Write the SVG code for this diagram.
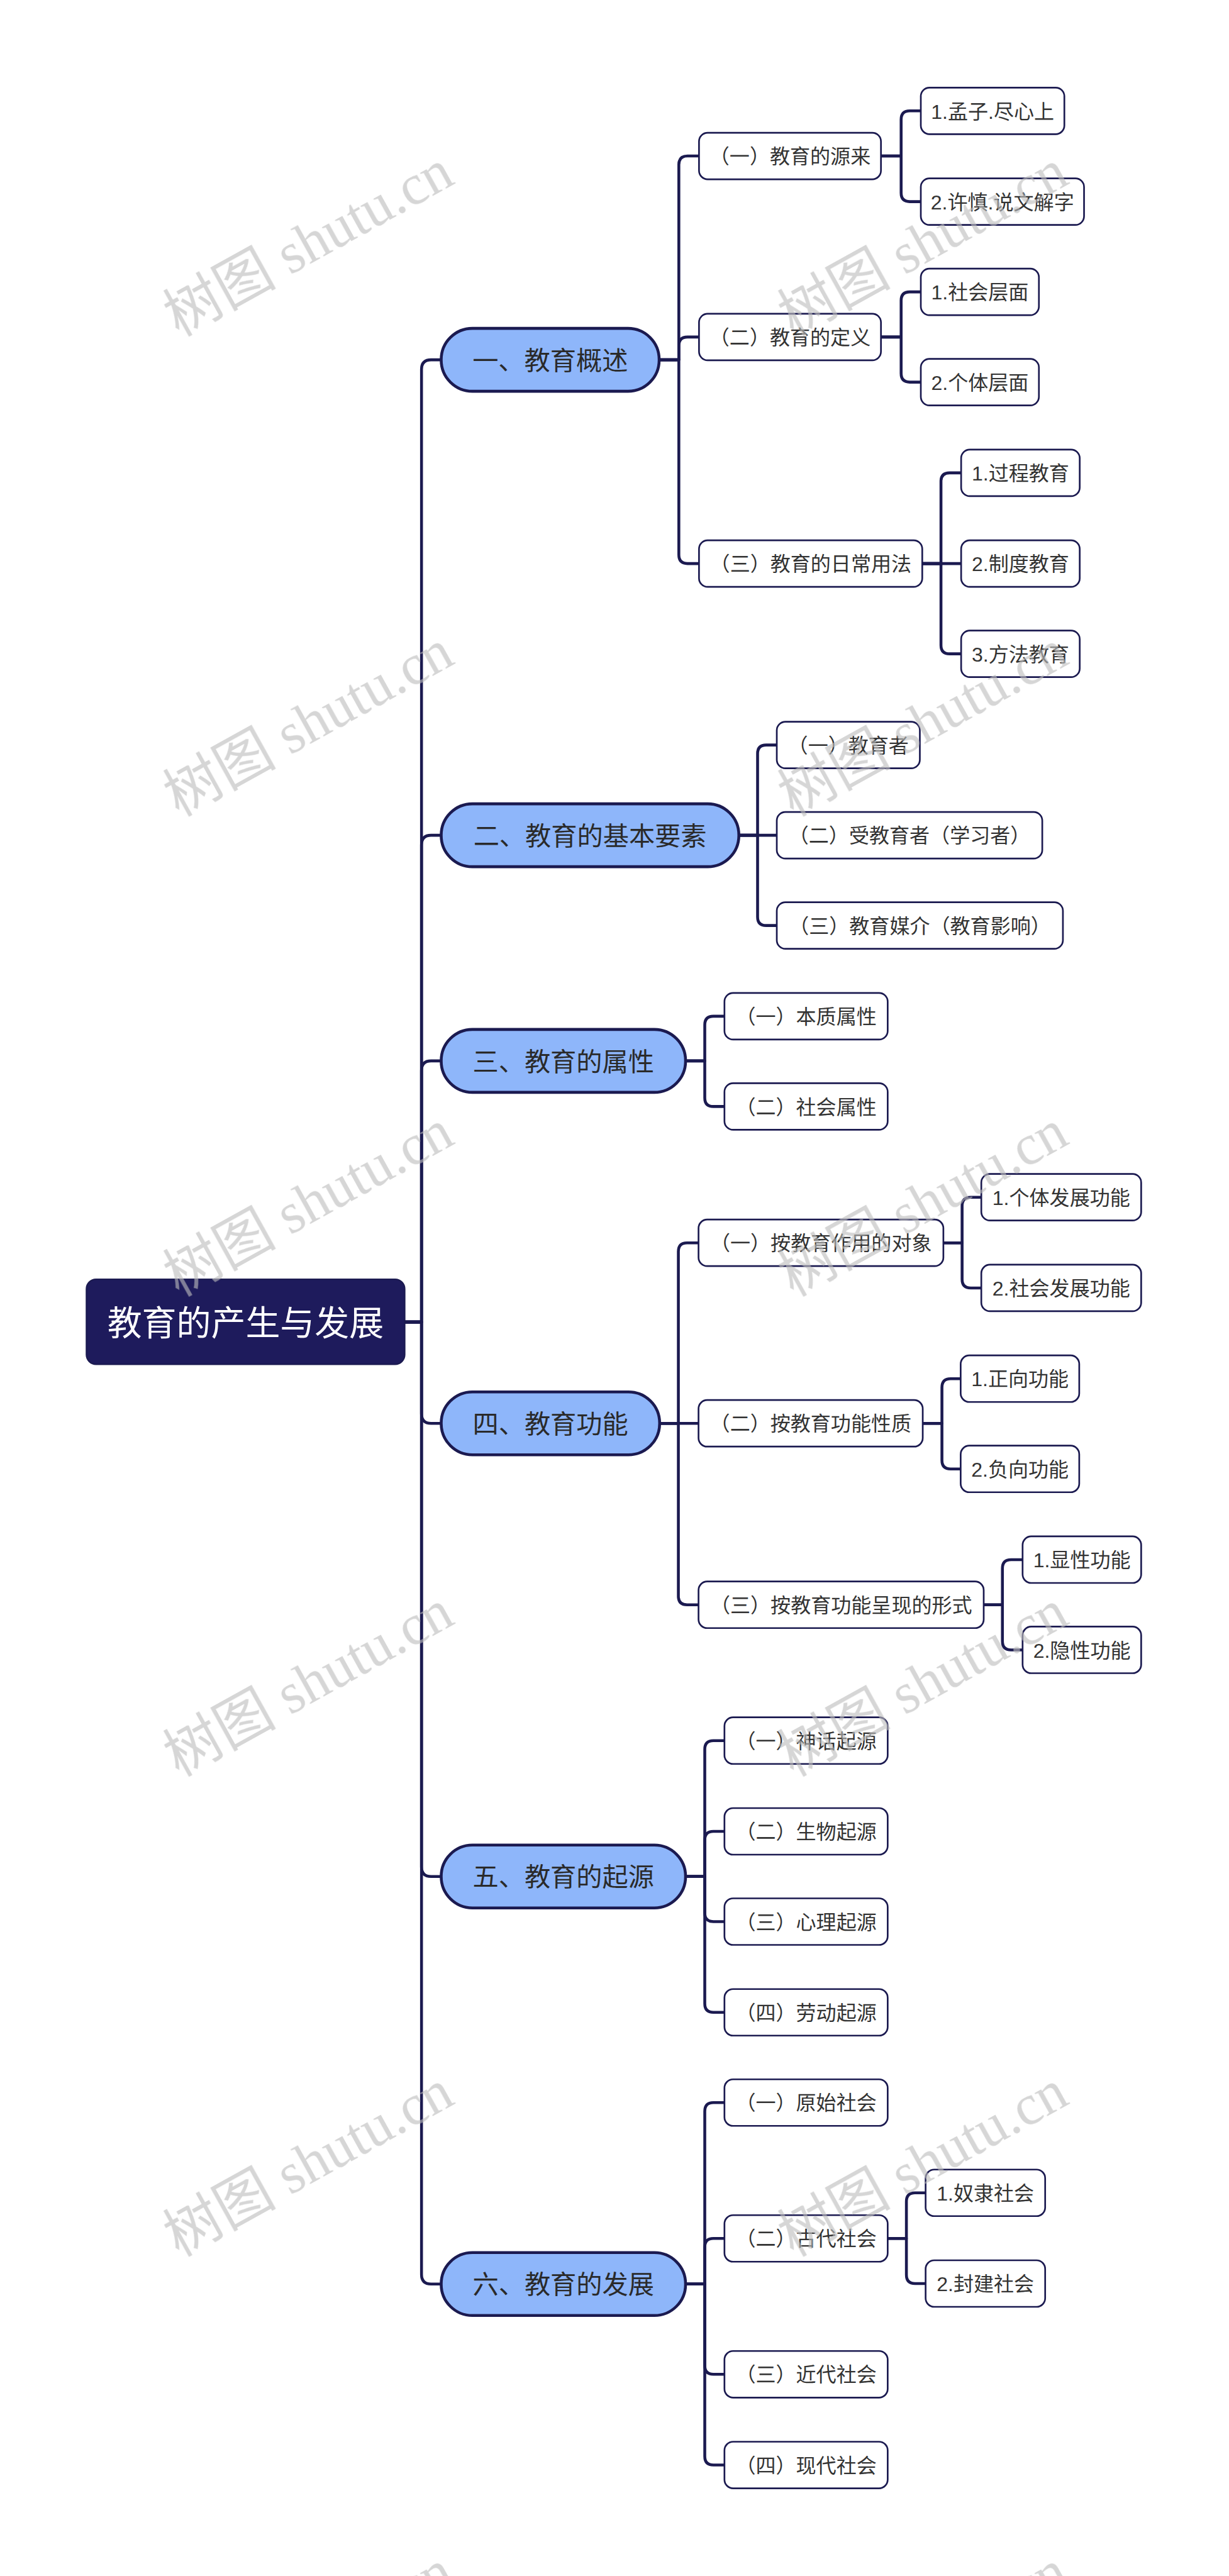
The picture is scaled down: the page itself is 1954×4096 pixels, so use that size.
<svg xmlns="http://www.w3.org/2000/svg" width="1954" height="4096" viewBox="0 0 1954 4096">
<defs>
<style>
.ln{fill:none;stroke:#1b1a50;stroke-width:6;stroke-linejoin:round}
.root rect{fill:#1e1b5c;stroke:#1b1a50;stroke-width:3}
.root text{fill:#ffffff;font-size:72px}
.l1 rect{fill:#8eb6fa;stroke:#1b1a50;stroke-width:6}
.l1 text{fill:#2a2a2a;font-size:54px}
.l2 rect{fill:#ffffff;stroke:#1b1a50;stroke-width:3.5}
.l2 text{fill:#333333;font-size:42px}
text{font-family:"Liberation Sans","Noto Sans CJK SC",sans-serif;text-anchor:middle}
.wm text{font-family:"Liberation Serif","Noto Sans CJK SC",serif;font-size:118px;fill:#bdbdbd;text-anchor:start}
</style>
</defs>
<rect x="0" y="0" width="1954" height="4096" fill="#ffffff"/>
<g transform="scale(0.7633)">
<g id="connectors">
<path class="ln" d="M843 2754 H878 V769.5 Q878 749.5 898 749.5 H919"/>
<path class="ln" d="M843 2754 H878 V1760 Q878 1740 898 1740 H919"/>
<path class="ln" d="M843 2754 H878 V2230 Q878 2210 898 2210 H919"/>
<path class="ln" d="M843 2754 H878 V2945 Q878 2965 898 2965 H919"/>
<path class="ln" d="M843 2754 H878 V3889 Q878 3909 898 3909 H919"/>
<path class="ln" d="M843 2754 H878 V4738 Q878 4758 898 4758 H919"/>
<path class="ln" d="M1373 749.5 H1414 V343 Q1414 325 1432 325 H1456"/>
<path class="ln" d="M1373 749.5 H1414 V720 Q1414 702 1432 702 H1456"/>
<path class="ln" d="M1373 749.5 H1414 V1156 Q1414 1174 1432 1174 H1456"/>
<path class="ln" d="M1539 1740 H1578 V1570 Q1578 1552 1596 1552 H1618"/>
<path class="ln" d="M1539 1740 H1618"/>
<path class="ln" d="M1539 1740 H1578 V1910 Q1578 1928 1596 1928 H1618"/>
<path class="ln" d="M1428 2210 H1468 V2135 Q1468 2117 1486 2117 H1509"/>
<path class="ln" d="M1428 2210 H1468 V2287 Q1468 2305 1486 2305 H1509"/>
<path class="ln" d="M1374 2965 H1413 V2607 Q1413 2589 1431 2589 H1455"/>
<path class="ln" d="M1374 2965 H1455"/>
<path class="ln" d="M1374 2965 H1413 V3325 Q1413 3343 1431 3343 H1455"/>
<path class="ln" d="M1428 3909 H1468 V3644 Q1468 3626 1486 3626 H1509"/>
<path class="ln" d="M1428 3909 H1468 V3833 Q1468 3815 1486 3815 H1509"/>
<path class="ln" d="M1428 3909 H1468 V3985 Q1468 4003 1486 4003 H1509"/>
<path class="ln" d="M1428 3909 H1468 V4174 Q1468 4192 1486 4192 H1509"/>
<path class="ln" d="M1428 4758 H1468 V4398 Q1468 4380 1486 4380 H1509"/>
<path class="ln" d="M1428 4758 H1468 V4681 Q1468 4663 1486 4663 H1509"/>
<path class="ln" d="M1428 4758 H1468 V4928 Q1468 4946 1486 4946 H1509"/>
<path class="ln" d="M1428 4758 H1468 V5117 Q1468 5135 1486 5135 H1509"/>
<path class="ln" d="M1835 325 H1877 V249 Q1877 231 1895 231 H1918"/>
<path class="ln" d="M1835 325 H1877 V402 Q1877 420 1895 420 H1918"/>
<path class="ln" d="M1835 702 H1877 V626 Q1877 608 1895 608 H1918"/>
<path class="ln" d="M1835 702 H1877 V778 Q1877 796 1895 796 H1918"/>
<path class="ln" d="M1921 1174 H1960 V1003 Q1960 985 1978 985 H2002"/>
<path class="ln" d="M1921 1174 H2002"/>
<path class="ln" d="M1921 1174 H1960 V1344 Q1960 1362 1978 1362 H2002"/>
<path class="ln" d="M1965 2589 H2004 V2512 Q2004 2494 2022 2494 H2044"/>
<path class="ln" d="M1965 2589 H2004 V2665 Q2004 2683 2022 2683 H2044"/>
<path class="ln" d="M1922 2965 H1962 V2890 Q1962 2872 1980 2872 H2001"/>
<path class="ln" d="M1922 2965 H1962 V3042 Q1962 3060 1980 3060 H2001"/>
<path class="ln" d="M2049 3343 H2088 V3267 Q2088 3249 2106 3249 H2130"/>
<path class="ln" d="M2049 3343 H2088 V3419 Q2088 3437 2106 3437 H2130"/>
<path class="ln" d="M1849 4663 H1888 V4586 Q1888 4568 1906 4568 H1928"/>
<path class="ln" d="M1849 4663 H1888 V4739 Q1888 4757 1906 4757 H1928"/>
</g>
<g id="root" class="root"><rect x="180" y="2665" width="663" height="177" rx="20"/><text x="511.5" y="2781">教育的产生与发展</text></g>
<g id="n1" class="l1"><rect x="919" y="684" width="454" height="131" rx="65"/><text x="1146" y="770">一、教育概述</text></g>
<g id="n2" class="l1"><rect x="919" y="1674.5" width="620" height="131" rx="65"/><text x="1229" y="1760.5">二、教育的基本要素</text></g>
<g id="n3" class="l1"><rect x="919" y="2144.5" width="509" height="131" rx="65"/><text x="1173.5" y="2230.5">三、教育的属性</text></g>
<g id="n4" class="l1"><rect x="919" y="2899.5" width="455" height="131" rx="65"/><text x="1146.5" y="2985.5">四、教育功能</text></g>
<g id="n5" class="l1"><rect x="919" y="3843.5" width="509" height="131" rx="65"/><text x="1173.5" y="3929.5">五、教育的起源</text></g>
<g id="n6" class="l1"><rect x="919" y="4692.5" width="509" height="131" rx="65"/><text x="1173.5" y="4778.5">六、教育的发展</text></g>
<g id="n1a" class="l2"><rect x="1456" y="276.5" width="379" height="97" rx="18"/><text x="1645.5" y="341">（一）教育的源来</text></g>
<g id="n1b" class="l2"><rect x="1456" y="653.5" width="379" height="97" rx="18"/><text x="1645.5" y="718">（二）教育的定义</text></g>
<g id="n1c" class="l2"><rect x="1456" y="1125.5" width="465" height="97" rx="18"/><text x="1688.5" y="1190">（三）教育的日常用法</text></g>
<g id="n2a" class="l2"><rect x="1618" y="1503.5" width="298" height="97" rx="18"/><text x="1767" y="1568">（一）教育者</text></g>
<g id="n2b" class="l2"><rect x="1618" y="1691.5" width="553" height="97" rx="18"/><text x="1894.5" y="1756">（二）受教育者（学习者）</text></g>
<g id="n2c" class="l2"><rect x="1618" y="1879.5" width="596" height="97" rx="18"/><text x="1916" y="1944">（三）教育媒介（教育影响）</text></g>
<g id="n3a" class="l2"><rect x="1509" y="2068.5" width="340" height="97" rx="18"/><text x="1679" y="2133">（一）本质属性</text></g>
<g id="n3b" class="l2"><rect x="1509" y="2256.5" width="340" height="97" rx="18"/><text x="1679" y="2321">（二）社会属性</text></g>
<g id="n4a" class="l2"><rect x="1455" y="2540.5" width="510" height="97" rx="18"/><text x="1710" y="2605">（一）按教育作用的对象</text></g>
<g id="n4b" class="l2"><rect x="1455" y="2916.5" width="467" height="97" rx="18"/><text x="1688.5" y="2981">（二）按教育功能性质</text></g>
<g id="n4c" class="l2"><rect x="1455" y="3294.5" width="594" height="97" rx="18"/><text x="1752" y="3359">（三）按教育功能呈现的形式</text></g>
<g id="n5a" class="l2"><rect x="1509" y="3577.5" width="340" height="97" rx="18"/><text x="1679" y="3642">（一）神话起源</text></g>
<g id="n5b" class="l2"><rect x="1509" y="3766.5" width="340" height="97" rx="18"/><text x="1679" y="3831">（二）生物起源</text></g>
<g id="n5c" class="l2"><rect x="1509" y="3954.5" width="340" height="97" rx="18"/><text x="1679" y="4019">（三）心理起源</text></g>
<g id="n5d" class="l2"><rect x="1509" y="4143.5" width="340" height="97" rx="18"/><text x="1679" y="4208">（四）劳动起源</text></g>
<g id="n6a" class="l2"><rect x="1509" y="4331.5" width="340" height="97" rx="18"/><text x="1679" y="4396">（一）原始社会</text></g>
<g id="n6b" class="l2"><rect x="1509" y="4614.5" width="340" height="97" rx="18"/><text x="1679" y="4679">（二）古代社会</text></g>
<g id="n6c" class="l2"><rect x="1509" y="4897.5" width="340" height="97" rx="18"/><text x="1679" y="4962">（三）近代社会</text></g>
<g id="n6d" class="l2"><rect x="1509" y="5086.5" width="340" height="97" rx="18"/><text x="1679" y="5151">（四）现代社会</text></g>
<g id="n1a1" class="l2"><rect x="1918" y="182.5" width="299" height="97" rx="18"/><text x="2067.5" y="247">1.孟子.尽心上</text></g>
<g id="n1a2" class="l2"><rect x="1918" y="371.5" width="340" height="97" rx="18"/><text x="2088" y="436">2.许慎.说文解字</text></g>
<g id="n1b1" class="l2"><rect x="1918" y="559.5" width="246" height="97" rx="18"/><text x="2041" y="624">1.社会层面</text></g>
<g id="n1b2" class="l2"><rect x="1918" y="747.5" width="246" height="97" rx="18"/><text x="2041" y="812">2.个体层面</text></g>
<g id="n1c1" class="l2"><rect x="2002" y="936.5" width="247" height="97" rx="18"/><text x="2125.5" y="1001">1.过程教育</text></g>
<g id="n1c2" class="l2"><rect x="2002" y="1125.5" width="247" height="97" rx="18"/><text x="2125.5" y="1190">2.制度教育</text></g>
<g id="n1c3" class="l2"><rect x="2002" y="1313.5" width="247" height="97" rx="18"/><text x="2125.5" y="1378">3.方法教育</text></g>
<g id="n4a1" class="l2"><rect x="2044" y="2445.5" width="333" height="97" rx="18"/><text x="2210.5" y="2510">1.个体发展功能</text></g>
<g id="n4a2" class="l2"><rect x="2044" y="2634.5" width="333" height="97" rx="18"/><text x="2210.5" y="2699">2.社会发展功能</text></g>
<g id="n4b1" class="l2"><rect x="2001" y="2823.5" width="247" height="97" rx="18"/><text x="2124.5" y="2888">1.正向功能</text></g>
<g id="n4b2" class="l2"><rect x="2001" y="3011.5" width="247" height="97" rx="18"/><text x="2124.5" y="3076">2.负向功能</text></g>
<g id="n4c1" class="l2"><rect x="2130" y="3200.5" width="247" height="97" rx="18"/><text x="2253.5" y="3265">1.显性功能</text></g>
<g id="n4c2" class="l2"><rect x="2130" y="3388.5" width="247" height="97" rx="18"/><text x="2253.5" y="3453">2.隐性功能</text></g>
<g id="n6b1" class="l2"><rect x="1928" y="4519.5" width="249" height="97" rx="18"/><text x="2052.5" y="4584">1.奴隶社会</text></g>
<g id="n6b2" class="l2"><rect x="1928" y="4708.5" width="249" height="97" rx="18"/><text x="2052.5" y="4773">2.封建社会</text></g>
<g id="watermarks" class="wm" opacity="0.62">
<text transform="translate(372 702) rotate(-29)">树图 shutu.cn</text>
<text transform="translate(1652 702) rotate(-29)">树图 shutu.cn</text>
<text transform="translate(372 1702) rotate(-29)">树图 shutu.cn</text>
<text transform="translate(1652 1702) rotate(-29)">树图 shutu.cn</text>
<text transform="translate(372 2702) rotate(-29)">树图 shutu.cn</text>
<text transform="translate(1652 2702) rotate(-29)">树图 shutu.cn</text>
<text transform="translate(372 3702) rotate(-29)">树图 shutu.cn</text>
<text transform="translate(1652 3702) rotate(-29)">树图 shutu.cn</text>
<text transform="translate(372 4702) rotate(-29)">树图 shutu.cn</text>
<text transform="translate(1652 4702) rotate(-29)">树图 shutu.cn</text>
<text transform="translate(372 5702) rotate(-29)">树图 shutu.cn</text>
<text transform="translate(1652 5702) rotate(-29)">树图 shutu.cn</text>
</g>
</g>
</svg>
